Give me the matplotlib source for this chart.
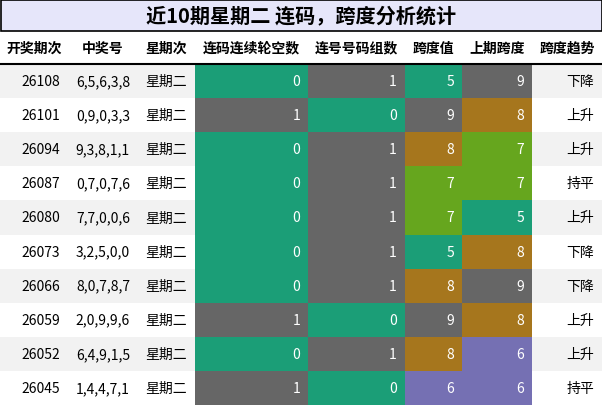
import matplotlib.pyplot as plt
from matplotlib.patches import Rectangle

plt.rcParams['font.family'] = ['Noto Sans CJK SC', 'DejaVu Sans']

title = "近10期星期二 连码，跨度分析统计"
headers = ["开奖期次", "中奖号", "星期次", "连码连续轮空数", "连号号码组数", "跨度值", "上期跨度", "跨度趋势"]
issues = ["26108", "26101", "26094", "26087", "26080", "26073", "26066", "26059", "26052", "26045"]
numbers = ["6,5,6,3,8", "0,9,0,3,3", "9,3,8,1,1", "0,7,0,7,6", "7,7,0,0,6",
           "3,2,5,0,0", "8,0,7,8,7", "2,0,9,9,6", "6,4,9,1,5", "1,4,4,7,1"]
weekday = ["星期二"] * 10
gap_count = [0, 1, 0, 0, 0, 0, 0, 1, 0, 1]
consec_groups = [1, 0, 1, 1, 1, 1, 1, 0, 1, 0]
span = [5, 9, 8, 7, 7, 5, 8, 9, 8, 6]
prev_span = [9, 8, 7, 7, 5, 8, 9, 8, 6, 6]
trend = ["下降", "上升", "上升", "持平", "上升", "下降", "下降", "上升", "上升", "持平"]

bin_colors = {0: "#1b9e77", 1: "#666666"}
span_colors = {5: "#1b9e77", 6: "#7570b3", 7: "#66a61e", 8: "#a6761d", 9: "#666666"}

W, H = 602, 406
edges = [0, 68, 138, 195, 308, 405, 462, 532, 602]
title_h, head_h = 32, 33
row_h = (H - title_h - head_h) / 10

fig = plt.figure(figsize=(W / 100, H / 100), dpi=100)
ax = fig.add_axes([0, 0, 1, 1])
ax.set_xlim(0, W)
ax.set_ylim(H, 0)
ax.axis("off")

ax.add_patch(Rectangle((0.5, 0.5), W - 1, title_h - 1, facecolor="#e6e6fa", edgecolor="black", lw=1.2))
ax.text(W / 2, title_h / 2, title, ha="center", va="center", fontsize=14.5, fontweight="bold")

hy = title_h + head_h / 2
for i, h in enumerate(headers):
    ax.text((edges[i] + edges[i + 1]) / 2, hy, h, ha="center", va="center", fontsize=10, fontweight="bold")
ax.plot([0, W], [title_h + head_h, title_h + head_h], color="black", lw=1.5)

for r in range(10):
    y0 = title_h + head_h + r * row_h
    yc = y0 + row_h / 2
    bg = "#f2f2f2" if r % 2 == 0 else "white"
    ax.add_patch(Rectangle((0, y0), W, row_h, facecolor=bg, edgecolor="none"))
    cells = [issues[r], numbers[r], weekday[r], gap_count[r], consec_groups[r], span[r], prev_span[r], trend[r]]
    fills = [None, None, None, bin_colors[gap_count[r]], bin_colors[consec_groups[r]],
             span_colors[span[r]], span_colors[prev_span[r]], None]
    for c, (val, fc) in enumerate(zip(cells, fills)):
        x0, x1 = edges[c], edges[c + 1]
        if fc:
            ax.add_patch(Rectangle((x0, y0), x1 - x0, row_h, facecolor=fc, edgecolor="none"))
        ax.text(x1 - 8, yc, str(val), ha="right", va="center", fontsize=10,
                color="white" if fc else "black")

fig.savefig("out.png", dpi=100)
